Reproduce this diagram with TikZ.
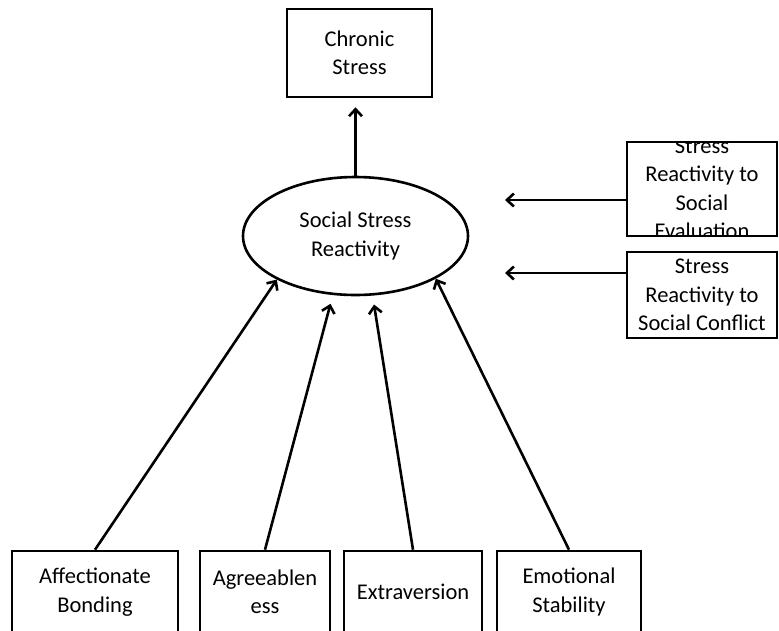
\documentclass[tikz,border=0pt]{standalone}
\usepackage{fontspec}
\setmainfont{Carlito}
\usetikzlibrary{arrows.meta,shapes.geometric}
\begin{document}
\begin{tikzpicture}[x=1pt,y=-1pt,line width=2.6pt,
  lbl/.style={font=\fontsize{22.5}{28.5}\selectfont,align=center},
  box/.style={draw,rectangle,inner sep=0pt,lbl},
  arr/.style={-{Straight Barb[length=7pt,width=13pt]}}]
\clip (0,0) rectangle (779,630);
% outcome and latent factor
\node[box,minimum width=145pt,minimum height=88pt] (cs) at (359.5,53) {Chronic\\Stress};
\node[draw,ellipse,inner sep=0pt,minimum width=225pt,minimum height=118pt,lbl] (ssr) at (355.5,236) {Social Stress\\Reactivity};
% indicators on the right (text of the first one is clipped by its frame)
\node[draw,rectangle,minimum width=150pt,minimum height=94pt,
  path picture={\node[lbl] at (path picture bounding box.center) {Stress\\Reactivity to\\Social\\Evaluation};}] (ev) at (702,189) {};
\node[box,minimum width=150pt,minimum height=86pt] (cf) at (702,295) {\raisebox{-5pt}{\parbox{150pt}{\centering Stress\\Reactivity to\\Social Conflict}}};
% predictors along the bottom
\node[box,minimum width=166pt,minimum height=82pt] (aff) at (95,592) {Affectionate\\Bonding};
\node[box,minimum width=130pt,minimum height=82pt] (agr) at (265,592) {Agreeablen\\ess};
\node[box,minimum width=138pt,minimum height=82pt] (ext) at (413,592) {Extraversion};
\node[box,minimum width=144pt,minimum height=82pt] (emo) at (569,592) {Emotional\\Stability};
% paths
\draw[arr,shorten >=9pt] (ssr.north) -- (ssr.north |- cs.south);
\coordinate (e1) at (505,200);
\coordinate (e2) at (505,273);
\draw[arr] (ev.west |- e1) -- (e1);
\draw[arr] (cf.west |- e2) -- (e2);
\draw[arr] (aff.north) -- (ssr.209);
\draw[arr,shorten >=9pt] (agr.north) -- (ssr.249);
\draw[arr,shorten >=9pt] (ext.north) -- (ssr.286);
\draw[arr] (emo.north) -- (ssr.332);
\end{tikzpicture}
\end{document}
